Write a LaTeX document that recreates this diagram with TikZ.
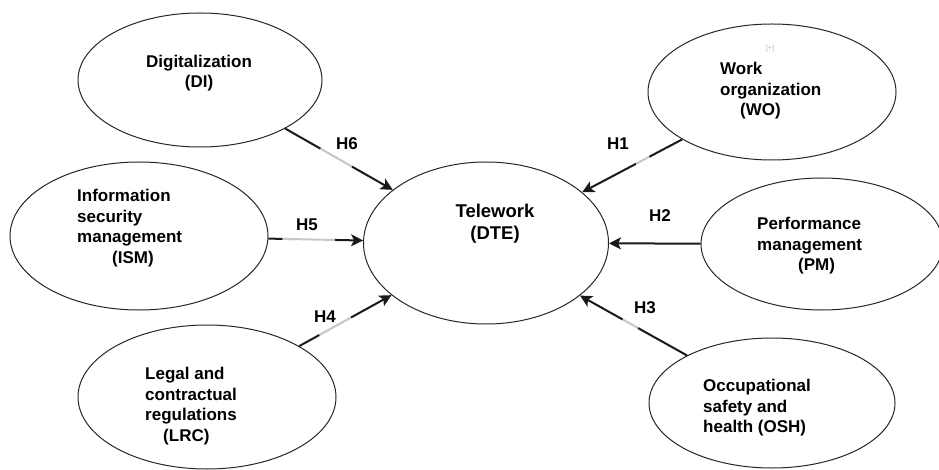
\documentclass[tikz,border=0pt]{standalone}
\usepackage{fontspec}
\setmainfont{Liberation Sans}
\usetikzlibrary{shapes.geometric,arrows.meta}
\begin{document}
\begin{tikzpicture}[x=1pt,y=-1pt,
  oval/.style={ellipse,draw=black!85,line width=1pt,inner sep=0pt},
  lbl/.style={font=\fontsize{17}{20.5}\selectfont\bfseries,inner sep=0pt},
  big/.style={font=\fontsize{18.5}{22}\selectfont\bfseries,inner sep=0pt},
  txt/.style={lbl,align=left,anchor=west},
  conn/.style={draw=black!90,line width=2pt,-{Stealth[length=12pt,width=12pt,inset=3pt]}},
  fade/.style={draw=black!22,line width=2pt,preaction={draw=white,line width=3.2pt}}]
\useasboundingbox (0,0) rectangle (939,470);
% ovals
\node[oval,minimum width=244pt,minimum height=134pt] (DI)  at (200,80)  {};
\node[oval,minimum width=248pt,minimum height=136pt] (WO)  at (772,92)  {};
\node[oval,minimum width=245pt,minimum height=162pt] (DTE) at (486,243) {};
\node[oval,minimum width=258pt,minimum height=148pt] (ISM) at (139,236) {};
\node[oval,minimum width=258pt,minimum height=144pt] (LRC) at (207,397) {};
\node[oval,minimum width=242pt,minimum height=132pt] (PM)  at (822,244) {};
\node[oval,minimum width=246pt,minimum height=130pt] (OSH) at (772,403) {};
% texts
\node[lbl,align=center] (DIt) at (199,73) {Digitalization\\(DI)};
\node[big,align=center] (DTEt) at (495,224) {Telework\\(DTE)};
\node[txt] (WOt) at (720,91) {Work\\organization\\\hspace*{20pt}(WO)};
\node[txt] (ISMt) at (77,228) {Information\\security\\management\\\hspace*{35pt}(ISM)};
\node[txt] (LRCt) at (145,406) {Legal and\\contractual\\regulations\\\hspace*{18pt}(LRC)};
\node[txt] (OSHt) at (703,408) {Occupational\\safety and\\health (OSH)};
\node[txt] (PMt) at (757,246) {Performance\\management\\\hspace*{41pt}(PM)};
\node[font=\fontsize{7}{8}\selectfont,text=black!30,inner sep=0pt] (plus) at (770,49) {[+]};
% connectors
\path[conn] (DI) -- (DTE) coordinate[pos=0.33] (f6a) coordinate[pos=0.62] (f6b);
\path[conn] (WO) -- (DTE) coordinate[pos=0.33] (f1a) coordinate[pos=0.46] (f1b);
\path[conn] (ISM) -- (DTE) coordinate[pos=0.15] (f5a) coordinate[pos=0.70] (f5b);
\path[conn] (PM) -- (DTE);
\path[conn] (LRC) -- (DTE) coordinate[pos=0.22] (f4a) coordinate[pos=0.56] (f4b);
\path[conn] (OSH) -- (DTE) coordinate[pos=0.46] (f3a) coordinate[pos=0.60] (f3b);
\draw[fade] (f6a) -- (f6b);
\draw[fade] (f1a) -- (f1b);
\draw[fade] (f5a) -- (f5b);
\draw[fade] (f4a) -- (f4b);
\draw[fade] (f3a) -- (f3b);
% labels
\node[lbl] (h6) at (347,144) {H6};
\node[lbl] (h1) at (618,144) {H1};
\node[lbl] (h5) at (307,225) {H5};
\node[lbl] (h2) at (660,216) {H2};
\node[lbl] (h4) at (325,317) {H4};
\node[lbl] (h3) at (645,308) {H3};
\end{tikzpicture}
\end{document}
